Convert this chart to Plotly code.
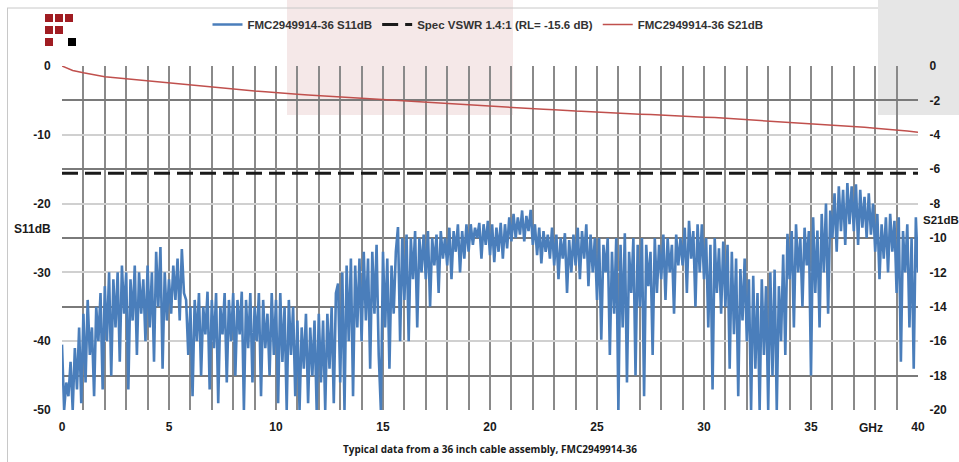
import plotly.graph_objects as go

# ---------------- data ----------------
freq_s11 = [round(i * 0.1, 1) for i in range(401)]  # GHz
s11_db = [
    -40.5, -50, -46, -48, -43, -50, -41, -47, -38, -49,
    -36, -46, -34, -42, -38, -48, -35, -40, -33, -47,
    -32, -40, -30, -45, -31, -38, -30, -43, -29, -36,
    -30, -47, -31, -37, -29, -42, -30, -36, -31, -40,
    -29, -38, -30, -43, -27, -35, -26.3, -44, -30, -37,
    -31, -36, -29, -34, -28, -37, -26.6, -33, -34, -42,
    -35, -48, -34, -40, -33, -45, -35, -39, -32.8, -47,
    -34, -41, -33, -49, -35, -39, -33, -46, -34, -40,
    -33, -45, -34, -39, -32.8, -50, -34, -41, -33, -46,
    -35, -40, -33, -48, -34, -41, -36, -45, -33, -42,
    -34, -49, -33, -43, -35, -50, -34, -42, -35, -48,
    -37, -50, -38, -44, -36, -49, -38, -45, -37, -50,
    -36, -46, -37, -50, -36, -44, -35, -49, -33, -31.6,
    -46, -30, -50, -29, -40, -28, -48, -29, -38, -28,
    -40, -27, -37, -28, -44, -27, -36, -26, -42, -50,
    -27, -38, -28, -44, -29, -36, -27, -23.4, -40, -25,
    -34, -24.5, -40, -25, -31, -24, -38, -25, -30, -24.5,
    -31, -24, -35, -25, -29, -24.5, -33, -24, -28, -25,
    -29, -23.5, -31, -24, -27, -23, -30, -24, -28, -23,
    -27, -23, -26, -23.5, -25, -22.8, -28, -23, -26, -22.5,
    -27.5, -23, -28.5, -23.5, -27, -22.8, -28, -23, -26.5, -22,
    -25.5, -21.5, -25, -22, -24.5, -21, -25.5, -21.8, -24, -20.9,
    -26, -23, -27.5, -23.5, -28.7, -24, -27, -24.5, -28, -23.5,
    -29, -24.5, -31, -25, -28, -24.3, -33, -25.3, -30, -24.5,
    -29, -23.5, -31, -24, -28, -23, -32, -24.5, -30, -25,
    -34, -25, -39.8, -26, -30, -25, -42, -27, -36, -25,
    -50, -26, -38, -24.3, -46, -27, -33, -25, -45, -26,
    -35, -25, -48, -26, -32, -27, -42, -25, -33, -26,
    -31, -24.5, -34, -25, -30, -26, -36, -24.5, -29, -25,
    -29, -23.5, -33, -22.5, -28, -24, -35, -23, -30, -23,
    -31, -25, -38, -26, -47, -25, -33, -26.5, -36, -25.5,
    -35, -26, -44, -27, -39, -28, -48, -29.5, -37, -28,
    -40, -31, -50, -30.5, -44, -33, -50, -31, -42, -32,
    -50, -30, -45, -29.6, -50, -32, -40, -27.4, -42, -24.4,
    -31, -24, -38, -23, -30, -25, -35, -23.5, -29, -24,
    -45, -22, -33, -23.9, -38, -21.5, -30, -20, -36, -21,
    -25, -18.5, -27, -17.5, -24, -18, -26, -17, -23, -17.5,
    -24, -17.2, -26, -18, -23.5, -19, -25, -18.5, -24.5, -20,
    -27, -21.5, -31, -23, -28, -22, -30, -21.5, -27, -22.5,
    -33, -22, -43, -24, -30, -23, -38, -25, -44, -22,
    -30,
]

freq_s21 = [0, 0.25, 0.5, 1, 1.5, 2, 2.5, 3, 3.5, 4, 4.5, 5, 5.5, 6, 6.5, 7, 7.5, 8,
            8.5, 9, 9.5, 10, 10.5, 11, 11.5, 12, 12.5, 13, 13.5, 14, 14.5, 15, 15.5,
            16, 16.5, 17, 17.5, 18, 18.5, 19, 19.5, 20, 20.5, 21, 21.5, 22, 22.5, 23,
            23.5, 24, 24.5, 25, 25.5, 26, 26.5, 27, 27.5, 28, 28.5, 29, 29.5, 30,
            30.5, 31, 31.5, 32, 32.5, 33, 33.5, 34, 34.5, 35, 35.5, 36, 36.5, 37,
            37.5, 38, 38.5, 39, 39.5, 40]
s21_db = [0, -0.15, -0.26, -0.39, -0.5, -0.62, -0.68, -0.74, -0.84, -0.9, -0.95, -1.0,
          -1.06, -1.13, -1.18, -1.25, -1.3, -1.36, -1.4, -1.46, -1.5, -1.56, -1.6,
          -1.64, -1.68, -1.72, -1.77, -1.8, -1.85, -1.88, -1.92, -1.95, -1.99, -2.03,
          -2.07, -2.1, -2.15, -2.19, -2.22, -2.27, -2.3, -2.36, -2.38, -2.42, -2.45,
          -2.5, -2.52, -2.55, -2.6, -2.62, -2.64, -2.68, -2.7, -2.74, -2.77, -2.8,
          -2.82, -2.86, -2.88, -2.92, -2.94, -2.98, -3.0, -3.04, -3.06, -3.1, -3.13,
          -3.17, -3.2, -3.25, -3.28, -3.33, -3.37, -3.42, -3.46, -3.52, -3.56, -3.62,
          -3.66, -3.72, -3.78, -3.85, -3.92]

spec_x = [0, 40]
spec_rl = [-15.6, -15.6]

x_ticks = [0, 5, 10, 15, 20, 25, 30, 35, 40]
y1_ticks = [0, -10, -20, -30, -40, -50]
y1_text = ["0", "-10", "-20", "-30", "-40", "-50"]
y2_ticks = [0, -2, -4, -6, -8, -10, -12, -14, -16, -18, -20]
y2_text = ["0", "-2", "-4", "-6", "-8", "-10", "-12", "-14", "-16", "-18", "-20"]

# ---------------- figure ----------------
W, H = 959, 462
ML, MR, MT, MB = 62, 41, 66, 52
PW, PH = W - ML - MR, H - MT - MB


def px(x):
    return (x - ML) / PW


def py(y):
    return 1 - (y - MT) / PH


BLUE = "#4a7ebb"
RED = "#c0504d"
FONT = "Liberation Sans"

fig = go.Figure()
fig.add_trace(go.Scatter(x=freq_s11, y=s11_db, mode="lines", name="FMC2949914-36 S11dB",
                         line=dict(color=BLUE, width=2.6)))
fig.add_trace(go.Scatter(x=spec_x, y=spec_rl, mode="lines",
                         name="Spec VSWR 1.4:1 (RL= -15.6 dB)",
                         line=dict(color="#1a1a1a", width=3, dash="16px,7px")))
fig.add_trace(go.Scatter(x=freq_s21, y=s21_db, mode="lines", name="FMC2949914-36 S21dB",
                         line=dict(color=RED, width=1.5), yaxis="y2"))

tickfont = dict(family=FONT, size=12, color="#1a1a1a", weight="bold")

shapes = [
    dict(type="rect", xref="paper", yref="paper", x0=px(287), x1=px(513), y0=py(115), y1=py(0),
         fillcolor="#f5e8e8", line=dict(width=0), layer="below"),
    dict(type="rect", xref="paper", yref="paper", x0=px(878), x1=px(959), y0=py(115), y1=py(0),
         fillcolor="#e6e6e6", line=dict(width=0), layer="below"),
    dict(type="line", xref="paper", yref="paper", x0=px(7), x1=px(878), y0=py(8), y1=py(8),
         line=dict(color="#c8c8c8", width=1), layer="below"),
    dict(type="line", xref="paper", yref="paper", x0=px(7.5), x1=px(7.5), y0=py(462), y1=py(8),
         line=dict(color="#c8c8c8", width=1), layer="below"),
]
# logo squares
logo = [(45, 14, "#a01c22"), (55, 14, "#a01c22"), (65, 14, "#a01c22"),
        (45, 26, "#a01c22"), (55, 26, "#a01c22"),
        (45, 38, "#a01c22"), (68, 38, "#000000")]
for (lx, ly, c) in logo:
    shapes.append(dict(type="rect", xref="paper", yref="paper", x0=px(lx), x1=px(lx + 8),
                       y0=py(ly + 8), y1=py(ly), fillcolor=c, line=dict(width=0)))

annos = [
    dict(text="S11dB", x=px(32), y=py(229), xanchor="center", yanchor="middle",
         font=dict(family=FONT, size=12, color="#1a1a1a", weight="bold")),
    dict(text="S21dB", x=px(921), y=py(220), xanchor="left", yanchor="middle",
         font=dict(family=FONT, size=11.5, color="#1a1a1a", weight="bold")),
    dict(text="GHz", x=px(871), y=py(428), xanchor="center", yanchor="middle",
         font=dict(family=FONT, size=12, color="#1a1a1a", weight="bold")),
    dict(text="Typical data from a 36 inch cable assembly, FMC2949914-36", x=px(490),
         y=py(449), xanchor="center", yanchor="middle",
         font=dict(family="Open Sans", size=10, color="#1a1a1a", weight="bold")),
]
for a in annos:
    a.update(xref="paper", yref="paper", showarrow=False)

fig.update_layout(
    width=W, height=H,
    margin=dict(l=ML, r=MR, t=MT, b=MB, autoexpand=False),
    paper_bgcolor="white", plot_bgcolor="rgba(0,0,0,0)",
    showlegend=True,
    legend=dict(orientation="h", x=488 / W, xanchor="center", xref="container",
                y=1 - 10 / H, yanchor="top", yref="container",
                font=dict(family=FONT, size=11.5, color="#333333", weight="bold"),
                bgcolor="rgba(0,0,0,0)", itemwidth=30, tracegroupgap=0),
    xaxis=dict(range=[0, 40], tickvals=x_ticks, showgrid=True, gridcolor="#8a8a8a",
               gridwidth=1.5, zeroline=False, showline=False, tickfont=tickfont,
               ticks="outside", ticklen=6, tickcolor="rgba(0,0,0,0)", automargin=False,
               minor=dict(dtick=1, showgrid=True, gridcolor="#8a8a8a", gridwidth=1.5)),
    yaxis=dict(range=[-50, 0], tickvals=y1_ticks, ticktext=y1_text, showgrid=True,
               gridcolor="#d0d0d0", gridwidth=1.5,
               zeroline=False, showline=False, tickfont=tickfont, ticks="outside",
               ticklen=8, tickcolor="rgba(0,0,0,0)", automargin=False,
               minor=dict(dtick=5, showgrid=True, gridcolor="#7a7a7a", gridwidth=1.5)),
    yaxis2=dict(range=[-20, 0], tickvals=y2_ticks, ticktext=y2_text, overlaying="y",
                side="right", showgrid=False, automargin=False,
                zeroline=False, showline=False, tickfont=tickfont, ticks="outside",
                ticklen=8, tickcolor="rgba(0,0,0,0)"),
    shapes=shapes,
    annotations=annos,
)

fig.write_html("out.html", config={"displayModeBar": False},
               post_script="document.body.style.margin='0';document.body.style.overflow='hidden';")
